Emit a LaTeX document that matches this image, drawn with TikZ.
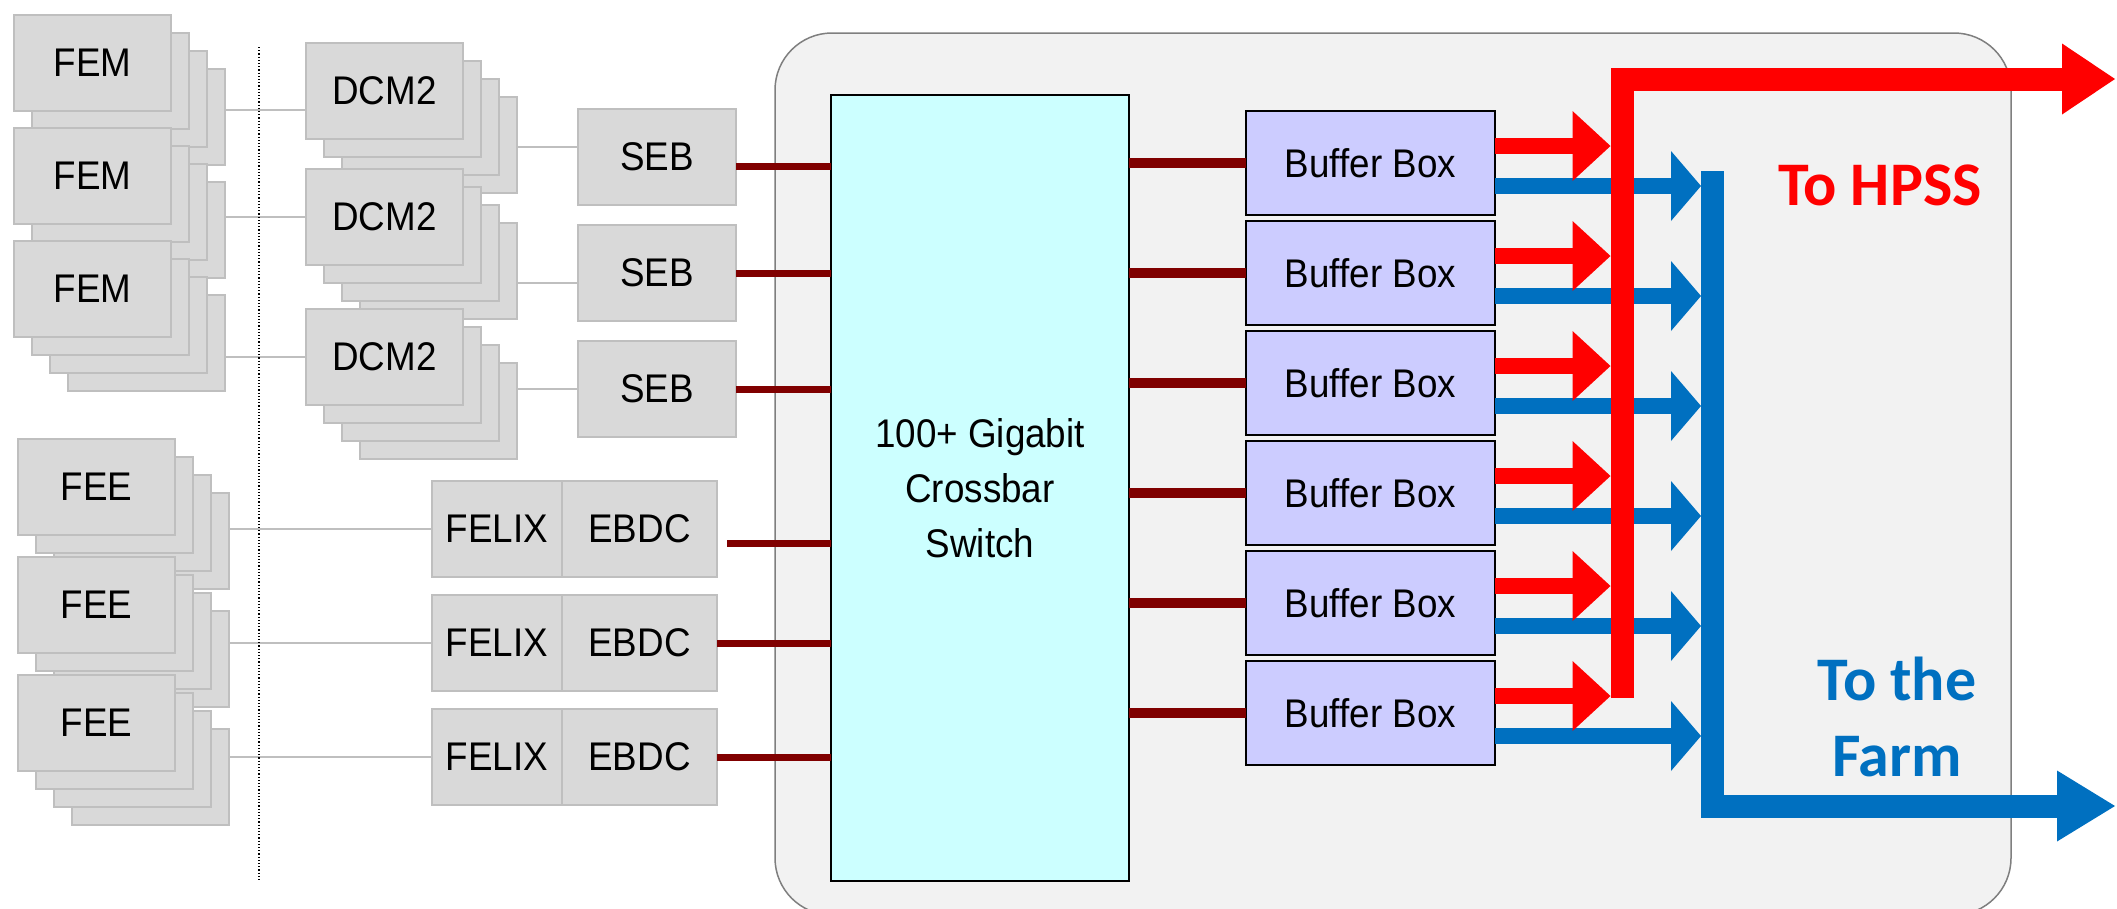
\documentclass[tikz,border=0pt]{standalone}
\usepackage{fontspec}
\usepackage{tikz}
\usetikzlibrary{arrows.meta,positioning,calc}
\newfontfamily\boxfont[FakeStretch=0.92]{Liberation Sans}
\newfontfamily\calloutfont{Carlito}
\newcommand{\labelfont}{\boxfont\fontsize{40}{55}\selectfont}
\definecolor{cardfill}{HTML}{D9D9D9}
\definecolor{cardline}{HTML}{BFBFBF}
\definecolor{panelfill}{HTML}{F2F2F2}
\definecolor{panelline}{HTML}{7F7F7F}
\definecolor{switchfill}{HTML}{CCFFFF}
\definecolor{bufferfill}{HTML}{CCCCFF}
\definecolor{fibre}{HTML}{800000}
\definecolor{hpssred}{HTML}{FF0000}
\definecolor{farmblue}{HTML}{0070C0}

% front card (#1, label #4) with three cards stacked behind it, top-left at (#2,-#3)
\newcommand{\cardstack}[4]{%
  \foreach \n in {3,2,1}{
    \node[card] (#1-\n) at ({#2+18*\n},{-#3-18*\n}) {};
  }
  \node[card] (#1) at (#2,-#3) {#4};
}

\begin{document}
\begin{tikzpicture}[
  x=1pt, y=1pt,
  card/.style={draw=cardline, fill=cardfill, line width=1.5pt,
               minimum width=157pt, minimum height=96pt, inner sep=0pt,
               outer sep=0pt, anchor=north west, font=\labelfont},
  switchbox/.style={draw=black, fill=switchfill, line width=2pt,
                    minimum width=298pt, minimum height=786pt, outer sep=0pt,
                    anchor=north west, align=center, font=\labelfont},
  bufbox/.style={draw=black, fill=bufferfill, line width=2.2pt,
                 minimum width=249pt, minimum height=104pt, inner sep=0pt,
                 outer sep=0pt, anchor=north west, font=\labelfont},
  panel/.style={draw=panelline, fill=panelfill, line width=1.5pt,
                rounded corners=57pt},
  divider/.style={draw=black, dotted, line width=1.2pt},
  feed/.style={draw=cardline, line width=2pt},
  fibrein/.style={draw=fibre, line width=7pt},
  fibreout/.style={draw=fibre, line width=10pt},
  tohpss/.style={draw=hpssred, line width=16pt, shorten >=11.5pt,
                 -{Triangle[length=38pt,width=70pt,line width=0pt]}},
  tofarm/.style={draw=farmblue, line width=16pt, shorten >=11pt,
                 -{Triangle[length=30pt,width=70pt,line width=0pt]}},
  hpssbus/.style={draw=hpssred, line width=23pt, line join=miter,
                  -{Triangle[length=53pt,width=71pt,line width=0pt]}},
  farmbus/.style={draw=farmblue, line width=23pt, line join=miter,
                  -{Triangle[length=58pt,width=71pt,line width=0pt]}},
  callout/.style={font=\calloutfont\bfseries\fontsize{62}{76}\selectfont,
                  inner sep=0pt, align=center},
]
\useasboundingbox (0,0) rectangle (2117,-908);

% --- Event builder room ---
\draw[panel] (775,-33) rectangle (2011,-915);

% --- Front ends: FEM -> DCM2 -> SEB ---
\cardstack{fem1}{14}{15}{FEM}
\cardstack{fem2}{14}{128}{FEM}
\cardstack{fem3}{14}{241}{FEM}
\cardstack{dcm1}{306}{43}{DCM2}
\cardstack{dcm2}{306}{169}{DCM2}
\cardstack{dcm3}{306}{309}{DCM2}

\node[card, minimum width=158pt] at (578,-109) (seb1) {SEB};
\node[card, minimum width=158pt, below=20pt of seb1] (seb2) {SEB};
\node[card, minimum width=158pt, below=20pt of seb2] (seb3) {SEB};

% --- Front ends: FEE -> FELIX/EBDC ---
\cardstack{fee1}{18}{439}{FEE}
\cardstack{fee2}{18}{557}{FEE}
\cardstack{fee3}{18}{675}{FEE}

\node[card, minimum width=130pt] at (432,-481) (felix1) {FELIX};
\node[card, minimum width=130pt, below=18pt of felix1] (felix2) {FELIX};
\node[card, minimum width=130pt, below=18pt of felix2] (felix3) {FELIX};
\node[card, minimum width=155pt, right=0pt of felix1] (ebdc1) {EBDC};
\node[card, minimum width=155pt, right=0pt of felix2] (ebdc2) {EBDC};
\node[card, minimum width=155pt, right=0pt of felix3] (ebdc3) {EBDC};

% grey front-end links
\draw[feed] ($(dcm1.west -| fem1-3.east)+(0,-19)$) -- ($(dcm1.west)+(0,-19)$);
\draw[feed] (dcm2.west -| fem2-3.east) -- (dcm2.west);
\draw[feed] (dcm3.west -| fem3-3.east) -- (dcm3.west);
\draw[feed] ($(seb1.west -| dcm1-3.east)+(0,10)$) -- ($(seb1.west)+(0,10)$);
\draw[feed] ($(seb2.west -| dcm2-3.east)+(0,-10)$) -- ($(seb2.west)+(0,-10)$);
\draw[feed] (seb3.west -| dcm3-3.east) -- (seb3.west);
\draw[feed] (felix1.west -| fee1-3.east) -- (felix1.west);
\draw[feed] (felix2.west -| fee2-3.east) -- (felix2.west);
\draw[feed] (felix3.west -| fee3-3.east) -- (felix3.west);

\draw[divider] (259,-47) -- (259,-880);

% --- Switch and buffer boxes ---
\node[switchbox] at (831,-95) (switch) {100+ Gigabit\\Crossbar\\Switch};

\node[bufbox] at (1246,-111) (buf1) {Buffer Box};
\node[bufbox, below=6pt of buf1] (buf2) {Buffer Box};
\node[bufbox, below=6pt of buf2] (buf3) {Buffer Box};
\node[bufbox, below=6pt of buf3] (buf4) {Buffer Box};
\node[bufbox, below=6pt of buf4] (buf5) {Buffer Box};
\node[bufbox, below=6pt of buf5] (buf6) {Buffer Box};

% fibres into the switch
\draw[fibrein] ($(seb1.east)+(0,-9)$) -- ($(seb1.east -| switch.west)+(0,-9)$);
\draw[fibrein] (seb2.east) -- (seb2.east -| switch.west);
\draw[fibrein] (seb3.east) -- (seb3.east -| switch.west);
\draw[fibrein] ($(ebdc1.east)+(10,-14)$) -- ($(ebdc1.east -| switch.west)+(0,-14)$);
\draw[fibrein] (ebdc2.east) -- (ebdc2.east -| switch.west);
\draw[fibrein] (ebdc3.east) -- (ebdc3.east -| switch.west);

% --- Outputs: farm (blue) under HPSS (red) ---
\coordinate (farmtop)    at (1712,-171);
\coordinate (farmcorner) at (1712,-806);
\coordinate (farmout)    at (2115,-806);
\coordinate (hpssfoot)   at (1622,-698);
\coordinate (hpsscorner) at (1622,-79);
\coordinate (hpssout)    at (2115,-79);

\foreach \b in {1,...,6}{
  \draw[fibreout] (buf\b.west -| switch.east) -- (buf\b.west);
  \draw[tofarm] ($(buf\b.east)+(0,-23)$) -- ($(buf\b.east -| farmtop)+(0,-23)$);
}
\draw[farmbus] (farmtop) -- (farmcorner) -- (farmout);

\foreach \b in {1,...,6}{
  \draw[tohpss] ($(buf\b.east)+(0,17)$) -- ($(buf\b.east -| hpssfoot)+(0,17)$);
}
\draw[hpssbus] (hpssfoot) -- (hpsscorner) -- (hpssout);

\node[callout, text=hpssred]  at (1880,-185) (hpss) {To HPSS};
\node[callout, text=farmblue] at (1897,-717) (farm) {To the\\Farm};
\end{tikzpicture}
\end{document}
